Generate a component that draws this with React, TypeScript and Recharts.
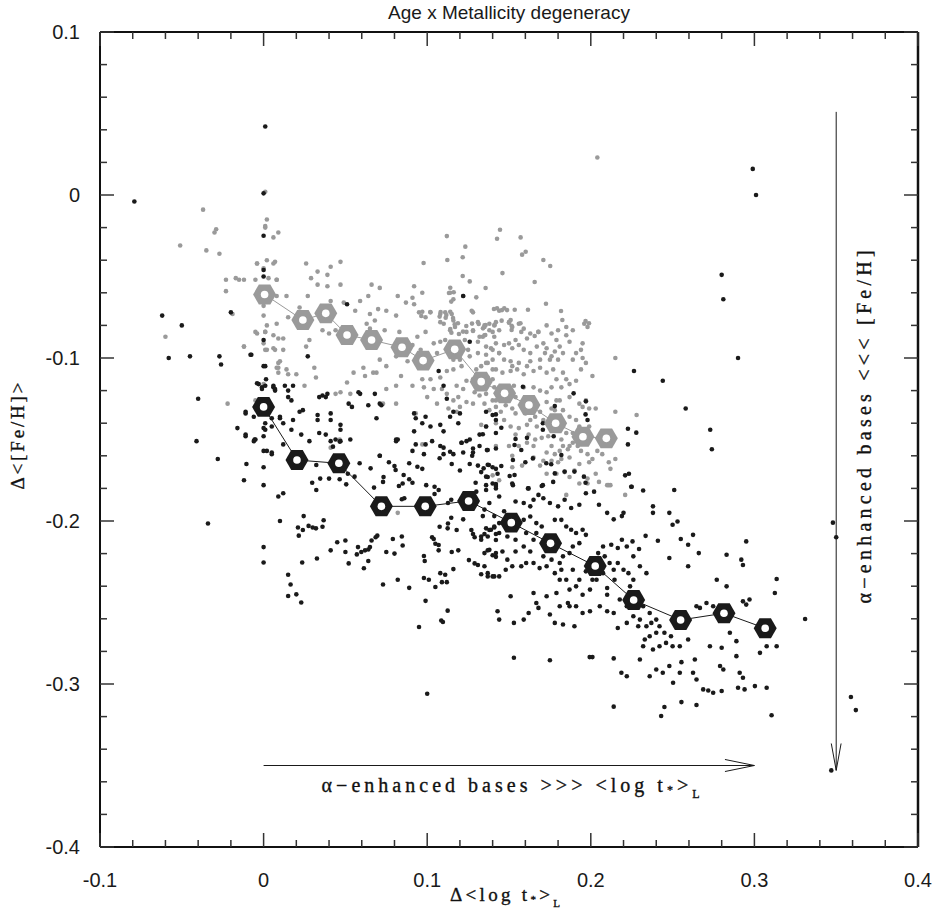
import React from "react";
import { ScatterChart, Scatter, XAxis, YAxis, ReferenceLine } from "recharts";

// axis ticks: majors every 0.1, minors every 0.02
const X_TICKS = [-0.1, -0.08, -0.06, -0.04, -0.02, 0, 0.02, 0.04, 0.06, 0.08, 0.1, 0.12, 0.14, 0.16, 0.18, 0.2, 0.22, 0.24, 0.26, 0.28, 0.3, 0.32, 0.34, 0.36, 0.38, 0.4];
const Y_TICKS = [-0.4, -0.38, -0.36, -0.34, -0.32, -0.3, -0.28, -0.26, -0.24, -0.22, -0.2, -0.18, -0.16, -0.14, -0.12, -0.1, -0.08, -0.06, -0.04, -0.02, 0, 0.02, 0.04, 0.06, 0.08, 0.1];

// binned means (hexagons)
const BLACK_MEAN: [number, number][] = [
  [0, -0.13], [0.0204, -0.1626], [0.046, -0.1646], [0.072, -0.191], [0.0988, -0.191], [0.1253, -0.1877],
  [0.1514, -0.201], [0.1754, -0.2137], [0.2027, -0.2276], [0.2262, -0.2485], [0.2549, -0.2607], [0.2814, -0.2566], [0.3066, -0.2658],
];
const GRAY_MEAN: [number, number][] = [
  [0.0006, -0.061], [0.024, -0.0767], [0.038, -0.0726], [0.051, -0.0859], [0.066, -0.089], [0.0846, -0.0934], [0.0975, -0.1016],
  [0.1168, -0.0947], [0.133, -0.1145], [0.1473, -0.1217], [0.1622, -0.1288], [0.1785, -0.14], [0.1952, -0.1483], [0.2095, -0.1493],
];

// individual galaxies, alpha-enhanced bases (black)
const BLACK_PTS: [number, number][] = [
  [-0.079, -0.004], [0.001, 0.042], [0.0, 0.001], [0.299, 0.016], [0.301, 0.0],
  [-0.062, -0.074], [-0.05, -0.08], [-0.058, -0.1], [-0.045, -0.099], [-0.027, -0.099], [-0.026, -0.104], [-0.02, -0.072], [-0.04, -0.125], [-0.041, -0.151], [-0.0075, -0.098],
  [0.0, -0.025], [0.0, -0.046], [0.0, -0.05], [0.0, -0.089], [0.0, -0.105], [-0.004, -0.1155], [-0.001, -0.118], [0.0015, -0.113], [0.006, -0.118], [0.007, -0.12],
  [-0.011, -0.133], [-0.006, -0.136], [0.0, -0.143], [0.0, -0.148], [0.005, -0.142], [-0.016, -0.143], [-0.011, -0.147], [-0.005, -0.15], [0.01, -0.136],
  [-0.0055, -0.15], [-0.028, -0.162], [-0.0105, -0.165], [-0.012, -0.175], [-0.034, -0.2015],
  [0.0, -0.157], [0.005, -0.158], [0.0, -0.167], [0.0, -0.178], [0.009, -0.185], [0.012, -0.183], [0.01, -0.2], [0.0, -0.216], [0.0, -0.2255],
  [0.015, -0.233], [0.0165, -0.239], [0.015, -0.246], [0.02, -0.245], [0.023, -0.25], [0.0245, -0.197], [0.021, -0.204], [0.0215, -0.209],
  [0.024, -0.2055], [0.0275, -0.203], [0.03, -0.204], [0.032, -0.2045], [0.036, -0.2035], [0.0367, -0.1995],
  [0.0236, -0.2255], [0.0326, -0.223], [0.041, -0.218], [0.045, -0.213], [0.05, -0.212], [0.052, -0.226], [0.05, -0.219], [0.0577, -0.216],
  [0.057, -0.2205], [0.0597, -0.219], [0.062, -0.218], [0.0613, -0.229], [0.064, -0.2245], [0.066, -0.212], [0.0685, -0.21], [0.0695, -0.209], [0.064, -0.2175], [0.065, -0.216],
  [0.073, -0.239], [0.075, -0.219], [0.08, -0.22], [0.079, -0.211], [0.0845, -0.2095], [0.085, -0.215], [0.082, -0.236], [0.089, -0.241], [0.095, -0.265],
  [0.099, -0.249], [0.098, -0.235], [0.101, -0.236], [0.0985, -0.2245], [0.098, -0.2215], [0.103, -0.21], [0.104, -0.211], [0.105, -0.214], [0.107, -0.2147],
  [0.107, -0.218], [0.1076, -0.2035], [0.1125, -0.2045], [0.108, -0.232], [0.111, -0.233], [0.112, -0.2375], [0.109, -0.2375], [0.105, -0.2405],
  [0.1086, -0.261], [0.1096, -0.262], [0.1125, -0.255], [0.115, -0.219], [0.119, -0.218], [0.116, -0.2295],
  [0.1127, -0.2015], [0.1147, -0.198], [0.118, -0.2055], [0.122, -0.199], [0.127, -0.2055], [0.128, -0.208], [0.129, -0.21], [0.133, -0.2095],
  [0.135, -0.208], [0.136, -0.2045], [0.138, -0.2055], [0.141, -0.204], [0.142, -0.208], [0.142, -0.2117],
  [0.1255, -0.224], [0.129, -0.226], [0.131, -0.227], [0.137, -0.218], [0.14, -0.221], [0.142, -0.222], [0.133, -0.2327], [0.137, -0.234], [0.141, -0.234],
  [0.081, -0.15], [0.093, -0.153], [0.11, -0.155], [0.114, -0.1575], [0.121, -0.152], [0.124, -0.151], [0.128, -0.1555], [0.1275, -0.16], [0.1365, -0.1565],
  [0.142, -0.1555], [0.1076, -0.1615], [0.115, -0.165], [0.12, -0.169], [0.126, -0.165], [0.131, -0.166], [0.133, -0.17], [0.137, -0.1655], [0.14, -0.167],
  [0.137, -0.173], [0.143, -0.171], [0.1296, -0.1765], [0.136, -0.181], [0.14, -0.177], [0.142, -0.18], [0.13, -0.182],
  [0.071, -0.16], [0.0766, -0.164], [0.08, -0.1663], [0.0807, -0.1687], [0.089, -0.1646], [0.094, -0.1667], [0.097, -0.168], [0.0856, -0.1718],
  [0.089, -0.1744], [0.091, -0.1765], [0.073, -0.176], [0.0733, -0.173], [0.0827, -0.1785], [0.085, -0.177], [0.086, -0.186], [0.0845, -0.1867],
  [0.0994, -0.178], [0.1045, -0.179], [0.107, -0.181], [0.1045, -0.1834], [0.1127, -0.189], [0.1147, -0.187],
  [0.0587, -0.1646], [0.0515, -0.171], [0.0556, -0.1728], [0.0322, -0.1656], [0.0297, -0.1765], [0.0346, -0.174], [0.04, -0.174], [0.0322, -0.181],
  [0.0505, -0.1775], [0.0675, -0.1795], [0.0654, -0.1677], [0.0424, -0.1544], [0.0465, -0.1513], [0.0465, -0.1744],
  [0.051, -0.067], [0.122, -0.062], [-0.008, -0.098], [0.027, -0.099], [0.001, -0.105], [-0.003, -0.116], [0.001, -0.117], [-0.001, -0.119],
  [0.006, -0.117], [0.007, -0.119], [0.013, -0.117], [0.015, -0.12], [0.018, -0.117], [0.015, -0.124], [0.017, -0.126], [0.034, -0.124],
  [0.036, -0.123], [0.039, -0.122], [0.038, -0.124], [0.024, -0.132], [0.022, -0.133], [0.033, -0.135], [0.041, -0.134], [0.052, -0.128],
  [0.054, -0.13], [0.058, -0.121], [0.059, -0.122], [0.064, -0.129], [0.068, -0.122], [0.072, -0.129], [0.071, -0.128], [0.069, -0.137],
  [0.033, -0.138], [0.041, -0.138], [0.047, -0.141], [-0.011, -0.134], [-0.006, -0.151], [-0.011, -0.148], [0.001, -0.14], [0.001, -0.144],
  [0.005, -0.137], [0.01, -0.137], [0.012, -0.14], [0.018, -0.138], [0.017, -0.144], [0.023, -0.147], [0.012, -0.153], [0.002, -0.157],
  [0.005, -0.159], [0.028, -0.151], [0.034, -0.146], [0.038, -0.147], [0.041, -0.151], [0.044, -0.15], [0.047, -0.151], [0.053, -0.15], [0.047, -0.144],
  [0.071, -0.16], [0.081, -0.151], [0.082, -0.15], [0.092, -0.145], [0.097, -0.14], [0.099, -0.136], [0.092, -0.134], [0.093, -0.137],
  [0.102, -0.142], [0.108, -0.141], [0.11, -0.145], [0.114, -0.136], [0.119, -0.14], [0.12, -0.134], [0.103, -0.151], [0.108, -0.154],
  [0.11, -0.159], [0.116, -0.159], [0.121, -0.152], [0.122, -0.158], [0.128, -0.158], [0.126, -0.15], [0.132, -0.154], [0.132, -0.147],
  [0.136, -0.142], [0.142, -0.146], [0.14, -0.135], [0.136, -0.133], [0.142, -0.138], [0.11, -0.117], [0.126, -0.09], [0.107, -0.108],
  [0.116, -0.133], [0.112, -0.125], [0.099, -0.153], [0.091, -0.157], [0.098, -0.159],
  [0.2264, -0.108], [0.244, -0.114], [0.2227, -0.1434], [0.2278, -0.1458], [0.2227, -0.153], [0.221, -0.172], [0.2233, -0.171], [0.2247, -0.179],
  [0.1585, -0.1176], [0.1895, -0.1217], [0.197, -0.1266], [0.1968, -0.1346], [0.198, -0.138], [0.178, -0.1295], [0.1707, -0.14], [0.1707, -0.144],
  [0.1773, -0.148], [0.1453, -0.1428], [0.142, -0.1346], [0.134, -0.1468], [0.154, -0.1497], [0.161, -0.149], [0.1534, -0.1534], [0.1575, -0.1564],
  [0.137, -0.1564], [0.182, -0.1595], [0.1728, -0.1646], [0.1758, -0.1652], [0.16, -0.164], [0.1524, -0.1626], [0.184, -0.1697], [0.19, -0.1697],
  [0.1958, -0.1728], [0.1968, -0.1765], [0.178, -0.1708], [0.1646, -0.1616], [0.1504, -0.1724], [0.1534, -0.1718], [0.142, -0.168], [0.1453, -0.1663],
  [0.1345, -0.1677], [0.1377, -0.1656], [0.136, -0.1728], [0.142, -0.1773], [0.1707, -0.178], [0.1616, -0.18], [0.1524, -0.178],
  [0.136, -0.178], [0.142, -0.1785], [0.152, -0.177], [0.162, -0.18], [0.17, -0.1785], [0.177, -0.176], [0.144, -0.185], [0.138, -0.189],
  [0.135, -0.193], [0.134, -0.197], [0.141, -0.197], [0.147, -0.194], [0.154, -0.188], [0.159, -0.189], [0.163, -0.191], [0.165, -0.187],
  [0.168, -0.184], [0.171, -0.186], [0.175, -0.189], [0.18, -0.191], [0.184, -0.187], [0.188, -0.192], [0.193, -0.19], [0.197, -0.183],
  [0.202, -0.182], [0.205, -0.19], [0.21, -0.195], [0.214, -0.199], [0.219, -0.197], [0.22, -0.195], [0.219, -0.2115], [0.2125, -0.2146],
  [0.2075, -0.2156], [0.2045, -0.2197], [0.2085, -0.2217], [0.2115, -0.2258], [0.214, -0.2299], [0.2165, -0.2258], [0.22, -0.2299], [0.223, -0.232],
  [0.226, -0.236], [0.2145, -0.236], [0.21, -0.2411], [0.2035, -0.236], [0.1995, -0.2421], [0.195, -0.2452], [0.193, -0.236], [0.191, -0.2401],
  [0.187, -0.2421], [0.185, -0.236], [0.181, -0.236], [0.178, -0.232], [0.173, -0.2278], [0.1687, -0.2289], [0.165, -0.2258], [0.1605, -0.2258],
  [0.1575, -0.2278], [0.152, -0.2278], [0.148, -0.2299], [0.144, -0.234], [0.14, -0.234], [0.137, -0.232], [0.135, -0.2278], [0.135, -0.2197],
  [0.138, -0.2177], [0.142, -0.2197], [0.146, -0.2187], [0.149, -0.2237], [0.154, -0.2187], [0.159, -0.2156], [0.163, -0.2187], [0.165, -0.2115],
  [0.1667, -0.2074], [0.1605, -0.2074], [0.154, -0.2115], [0.149, -0.2095], [0.144, -0.2074], [0.139, -0.2054], [0.137, -0.2095], [0.133, -0.2115],
  [0.148, -0.2013], [0.144, -0.2013], [0.141, -0.2034], [0.159, -0.1993], [0.163, -0.1972], [0.1667, -0.2013], [0.17, -0.2034], [0.178, -0.1993],
  [0.182, -0.1993], [0.185, -0.2034], [0.188, -0.2054], [0.191, -0.2074], [0.195, -0.2054], [0.197, -0.2085], [0.193, -0.2136], [0.189, -0.2156],
  [0.187, -0.2197], [0.183, -0.2217], [0.181, -0.2258], [0.176, -0.2237], [0.171, -0.2217], [0.182, -0.2299], [0.189, -0.2299], [0.197, -0.2309],
  [0.201, -0.236], [0.2075, -0.232], [0.2165, -0.2166], [0.222, -0.2156], [0.226, -0.2217], [0.23, -0.2278], [0.234, -0.232], [0.224, -0.2401],
  [0.228, -0.2462], [0.232, -0.2523], [0.236, -0.2564], [0.24, -0.2605], [0.234, -0.2646], [0.229, -0.2646], [0.222, -0.2625], [0.2165, -0.2656],
  [0.214, -0.2564], [0.21, -0.2554], [0.2055, -0.2523], [0.1995, -0.2554], [0.195, -0.2564], [0.191, -0.2523], [0.187, -0.2523], [0.181, -0.2523],
  [0.178, -0.2625], [0.183, -0.2635], [0.19, -0.2646], [0.175, -0.2574], [0.168, -0.2533], [0.162, -0.2564], [0.159, -0.2605], [0.153, -0.2625],
  [0.144, -0.2605], [0.143, -0.2554], [0.151, -0.2462], [0.165, -0.2442], [0.1667, -0.2503], [0.173, -0.2462], [0.179, -0.2442], [0.186, -0.2503],
  [0.21, -0.2452], [0.2177, -0.2482], [0.222, -0.2523], [0.226, -0.2584], [0.23, -0.2605], [0.237, -0.2625], [0.242, -0.2646], [0.245, -0.2686],
  [0.249, -0.2707], [0.24, -0.2686], [0.236, -0.2707], [0.233, -0.2727], [0.232, -0.2768], [0.238, -0.2788], [0.242, -0.2768], [0.246, -0.2748],
  [0.25, -0.2768], [0.2544, -0.2768], [0.2595, -0.2727], [0.2646, -0.2523], [0.2667, -0.2533], [0.2707, -0.2503], [0.2748, -0.2523], [0.283, -0.2401],
  [0.285, -0.2686], [0.289, -0.2737], [0.293, -0.2493], [0.295, -0.2513], [0.297, -0.2482], [0.3034, -0.2809], [0.3075, -0.2768], [0.3136, -0.2768],
  [0.331, -0.2601], [0.3075, -0.3023], [0.3003, -0.3013], [0.294, -0.3033], [0.29, -0.3023], [0.291, -0.2931], [0.293, -0.2962], [0.289, -0.2829],
  [0.281, -0.2911], [0.279, -0.289], [0.2728, -0.2768], [0.28, -0.2778], [0.28, -0.3043], [0.2748, -0.3054], [0.2718, -0.304], [0.2687, -0.3033],
  [0.2646, -0.2972], [0.2625, -0.2931], [0.2544, -0.2931], [0.2503, -0.2992], [0.2554, -0.3111], [0.245, -0.3141], [0.243, -0.3196], [0.2646, -0.3129],
  [0.2554, -0.2866], [0.2636, -0.285], [0.248, -0.289], [0.244, -0.2931], [0.24, -0.2911], [0.236, -0.2952], [0.23, -0.285], [0.222, -0.2952],
  [0.2187, -0.2931], [0.214, -0.2843], [0.214, -0.3139], [0.201, -0.2835], [0.1993, -0.2835], [0.175, -0.2854], [0.153, -0.2839], [0.3105, -0.3192],
  [0.238, -0.191], [0.238, -0.195], [0.248, -0.195], [0.25, -0.2023], [0.253, -0.2003], [0.251, -0.181], [0.255, -0.211], [0.2595, -0.2146],
  [0.2625, -0.2085], [0.266, -0.2197], [0.2595, -0.2278], [0.248, -0.2227], [0.241, -0.2121], [0.2335, -0.2091], [0.2295, -0.2172], [0.2255, -0.2125],
  [0.225, -0.179], [0.232, -0.1813], [0.295, -0.2125], [0.292, -0.2237], [0.293, -0.227], [0.283, -0.2207], [0.277, -0.236], [0.3136, -0.2356], [0.3125, -0.2442],
  [0.28, -0.049], [0.281, -0.064], [0.29, -0.1], [0.258, -0.131], [0.273, -0.144], [0.274, -0.156], [0.348, -0.201], [0.35, -0.21],
  [0.359, -0.308], [0.362, -0.316], [0.347, -0.353], [0.1, -0.306],
];

// individual galaxies, solar-scaled bases (gray)
const GRAY_PTS: [number, number][] = [
  [0.204, 0.023], [-0.037, -0.009], [-0.029, -0.021], [-0.03, -0.023], [-0.051, -0.031], [-0.035, -0.034], [-0.027, -0.036], [0.001, 0.002],
  [0.002, -0.015], [0.001, -0.019], [0.001, -0.02], [0.006, -0.026], [0.009, -0.023], [0.002, -0.04], [0.006, -0.042], [-0.004, -0.042],
  [0.0, -0.045], [-0.017, -0.051], [-0.015, -0.052], [-0.023, -0.052], [-0.023, -0.059], [-0.005, -0.052], [0.008, -0.052], [-0.019, -0.073],
  [0.0, -0.074], [0.0, -0.068], [-0.06, -0.087], [-0.004, -0.085], [0.001, -0.084], [0.0, -0.091], [0.001, -0.095], [0.006, -0.094],
  [0.009, -0.088], [-0.012, -0.093], [0.008, -0.106], [0.009, -0.103], [0.009, -0.109], [-0.022, -0.128], [-0.005, -0.126], [0.0, -0.116],
  [-0.004, -0.042], [0.007, -0.041], [0.026, -0.042], [0.047, -0.041], [0.041, -0.044], [0.039, -0.049], [0.029, -0.051], [0.033, -0.047],
  [0.008, -0.052], [0.003, -0.051], [-0.012, -0.052], [0.047, -0.055], [0.039, -0.056], [0.033, -0.055], [0.027, -0.062], [0.014, -0.062],
  [0.008, -0.062], [0.022, -0.069], [0.015, -0.075], [0.008, -0.079], [0.002, -0.08], [-0.005, -0.084], [0.001, -0.084], [0.006, -0.086],
  [0.012, -0.088], [-0.012, -0.093], [0.002, -0.095], [0.007, -0.095], [0.012, -0.095], [0.026, -0.093], [0.028, -0.089], [0.036, -0.083],
  [0.04, -0.085], [0.044, -0.083], [0.041, -0.065], [0.049, -0.066], [0.056, -0.071], [0.059, -0.065], [0.064, -0.062], [0.066, -0.055],
  [0.071, -0.057], [0.065, -0.073], [0.07, -0.07], [0.075, -0.071], [0.063, -0.079], [0.068, -0.077], [0.065, -0.082], [0.074, -0.083],
  [0.081, -0.074], [0.082, -0.062], [0.087, -0.066], [0.091, -0.063], [0.092, -0.056], [0.097, -0.06], [0.092, -0.067], [0.095, -0.072],
  [0.099, -0.075], [0.102, -0.072], [0.108, -0.073], [0.111, -0.072], [0.108, -0.078], [0.115, -0.073], [0.116, -0.077], [0.114, -0.06],
  [0.116, -0.064], [0.122, -0.062], [0.126, -0.053], [0.128, -0.072], [0.131, -0.078], [0.135, -0.081], [0.138, -0.079], [0.142, -0.078],
  [0.144, -0.071], [0.141, -0.087], [0.132, -0.087], [0.128, -0.083], [0.124, -0.084], [0.123, -0.089], [0.117, -0.081], [0.114, -0.083],
  [0.111, -0.089], [0.108, -0.09], [0.106, -0.097], [0.101, -0.1], [0.096, -0.095], [0.091, -0.092], [0.094, -0.087], [0.099, -0.084],
  [0.087, -0.089], [0.083, -0.084], [0.081, -0.099], [0.075, -0.105], [0.071, -0.101], [0.069, -0.109], [0.061, -0.106], [0.062, -0.111],
  [0.067, -0.109], [0.055, -0.109], [0.051, -0.115], [0.053, -0.122], [0.047, -0.121], [0.044, -0.122], [0.031, -0.106], [0.032, -0.112],
  [0.025, -0.117], [0.02, -0.11], [0.015, -0.11], [0.009, -0.106], [0.01, -0.102], [0.014, -0.107], [0.116, -0.101], [0.12, -0.101],
  [0.116, -0.107], [0.112, -0.108], [0.108, -0.112], [0.118, -0.117], [0.122, -0.119], [0.128, -0.113], [0.13, -0.107], [0.136, -0.093],
  [0.14, -0.095], [0.144, -0.097], [0.14, -0.107], [0.136, -0.103], [0.14, -0.113], [0.143, -0.119], [0.142, -0.126], [0.132, -0.123],
  [0.128, -0.128], [0.12, -0.13], [0.116, -0.126], [0.112, -0.122], [0.104, -0.119], [0.098, -0.118], [0.097, -0.113], [0.091, -0.117],
  [0.084, -0.111], [0.081, -0.117], [0.075, -0.119], [0.073, -0.128], [0.081, -0.128], [0.093, -0.134], [0.1, -0.124], [0.106, -0.128],
  [0.112, -0.0252], [0.1445, -0.0213], [0.1427, -0.0268], [0.1571, -0.026], [0.1233, -0.0317], [0.0978, -0.0417], [0.1123, -0.0399], [0.1217, -0.0382],
  [0.158, -0.0366], [0.1602, -0.0348], [0.171, -0.0399], [0.1752, -0.0436], [0.1217, -0.0497], [0.146, -0.0479], [0.1657, -0.0534], [0.1141, -0.0569],
  [0.1133, -0.0601], [0.1162, -0.0597], [0.1357, -0.0571], [0.13, -0.0628], [0.1147, -0.0654], [0.1726, -0.0667], [0.097, -0.0716], [0.1019, -0.0718],
  [0.1082, -0.0718], [0.1141, -0.0716], [0.0964, -0.0742], [0.1076, -0.0746], [0.1117, -0.0736], [0.1113, -0.0753], [0.1158, -0.0755], [0.1101, -0.079],
  [0.1168, -0.0794], [0.1188, -0.0787], [0.1141, -0.0822], [0.1239, -0.0804], [0.1274, -0.0789], [0.1315, -0.0791], [0.1357, -0.0798], [0.1412, -0.0798],
  [0.1272, -0.071], [0.1408, -0.0699], [0.1427, -0.0695], [0.1457, -0.0706], [0.1471, -0.0695], [0.1488, -0.0706], [0.1535, -0.0704], [0.1616, -0.0704],
  [0.1455, -0.0771], [0.151, -0.0767], [0.15, -0.0783], [0.1516, -0.0802], [0.157, -0.0787], [0.1516, -0.0828], [0.1575, -0.084], [0.1679, -0.084],
  [0.1657, -0.0865], [0.1818, -0.0712], [0.1826, -0.0767], [0.1968, -0.0773], [0.1989, -0.0787], [0.1219, -0.0838], [0.128, -0.0834], [0.1341, -0.0818],
  [0.1355, -0.0859], [0.1194, -0.0853], [0.1148, -0.0845],
  [0.141, -0.08], [0.15, -0.078], [0.156, -0.079], [0.152, -0.081], [0.163, -0.085], [0.168, -0.084], [0.135, -0.086], [0.142, -0.091],
  [0.147, -0.092], [0.15, -0.091], [0.154, -0.089], [0.156, -0.092], [0.152, -0.094], [0.159, -0.095], [0.163, -0.097], [0.167, -0.093],
  [0.171, -0.091], [0.173, -0.094], [0.178, -0.096], [0.181, -0.093], [0.187, -0.09], [0.183, -0.097], [0.18, -0.101], [0.175, -0.101],
  [0.169, -0.101], [0.163, -0.102], [0.156, -0.103], [0.151, -0.102], [0.147, -0.101], [0.14, -0.101], [0.136, -0.098], [0.137, -0.103],
  [0.133, -0.105], [0.142, -0.107], [0.146, -0.109], [0.151, -0.108], [0.155, -0.107], [0.159, -0.11], [0.165, -0.108], [0.169, -0.106],
  [0.173, -0.109], [0.177, -0.107], [0.183, -0.109], [0.185, -0.113], [0.182, -0.118], [0.187, -0.116], [0.191, -0.114], [0.194, -0.107],
  [0.197, -0.103], [0.195, -0.1], [0.201, -0.111], [0.215, -0.1], [0.141, -0.118], [0.136, -0.122], [0.14, -0.126], [0.135, -0.128],
  [0.142, -0.13], [0.138, -0.132], [0.145, -0.133], [0.148, -0.129], [0.152, -0.131], [0.154, -0.134], [0.16, -0.134], [0.163, -0.138],
  [0.166, -0.136], [0.169, -0.133], [0.171, -0.138], [0.167, -0.142], [0.161, -0.141], [0.156, -0.143], [0.151, -0.142], [0.147, -0.138],
  [0.142, -0.14], [0.136, -0.142], [0.133, -0.141], [0.154, -0.147], [0.162, -0.147], [0.166, -0.15], [0.17, -0.149], [0.174, -0.148],
  [0.176, -0.154], [0.173, -0.158], [0.178, -0.159], [0.181, -0.157], [0.183, -0.154], [0.187, -0.154], [0.189, -0.152], [0.192, -0.154],
  [0.195, -0.148], [0.199, -0.142], [0.203, -0.131], [0.199, -0.131], [0.195, -0.13], [0.191, -0.138], [0.187, -0.136], [0.183, -0.132],
  [0.181, -0.126], [0.179, -0.126], [0.187, -0.124], [0.193, -0.128], [0.197, -0.126], [0.187, -0.161], [0.182, -0.162], [0.18, -0.164],
  [0.176, -0.163], [0.171, -0.163], [0.165, -0.161], [0.184, -0.17], [0.19, -0.169], [0.193, -0.165], [0.198, -0.159], [0.201, -0.162],
  [0.203, -0.171], [0.198, -0.174], [0.205, -0.176], [0.211, -0.178], [0.212, -0.168], [0.215, -0.133], [0.228, -0.135], [0.158, -0.166],
  [0.152, -0.167], [0.144, -0.175], [0.14, -0.172],
  [0.185, -0.184], [0.198, -0.177], [0.21, -0.178], [0.212, -0.178], [0.221, -0.184], [0.097, -0.153], [0.082, -0.195], [0.041, -0.155],
  [0.0465, -0.15], [0.142, -0.154],
  [0.135, -0.08], [0.138, -0.083], [0.144, -0.083], [0.159, -0.082], [0.173, -0.08], [0.176, -0.085], [0.18, -0.083], [0.185, -0.081],
  [0.189, -0.083], [0.196, -0.079], [0.198, -0.081], [0.161, -0.088], [0.144, -0.097], [0.139, -0.094], [0.179, -0.089], [0.185, -0.086],
  [0.195, -0.091], [0.191, -0.097], [0.189, -0.101], [0.194, -0.095], [0.172, -0.097], [0.176, -0.099], [0.161, -0.105], [0.152, -0.105],
  [0.144, -0.118], [0.149, -0.119], [0.153, -0.117], [0.159, -0.118], [0.165, -0.118], [0.169, -0.12], [0.173, -0.121], [0.176, -0.118],
  [0.179, -0.113], [0.154, -0.124], [0.159, -0.126], [0.15, -0.124], [0.146, -0.126], [0.165, -0.126], [0.173, -0.127], [0.176, -0.131],
  [0.178, -0.132], [0.179, -0.138], [0.183, -0.142], [0.185, -0.146], [0.189, -0.146], [0.193, -0.142], [0.182, -0.15], [0.186, -0.156],
  [0.194, -0.157], [0.165, -0.154], [0.161, -0.152], [0.156, -0.154], [0.15, -0.154], [0.152, -0.16], [0.169, -0.166], [0.173, -0.171],
  [0.179, -0.171], [0.187, -0.173], [0.193, -0.177], [0.199, -0.164], [0.204, -0.157], [0.207, -0.159], [0.211, -0.164], [0.215, -0.162],
  [0.125, -0.095], [0.121, -0.105], [0.126, -0.099], [0.131, -0.09], [0.134, -0.11], [0.129, -0.121], [0.124, -0.114], [0.119, -0.124],
  [0.113, -0.131], [0.118, -0.133], [0.124, -0.127], [0.109, -0.119], [0.102, -0.113], [0.095, -0.106], [0.088, -0.102], [0.104, -0.091],
  [0.134, -0.087], [0.131, -0.097], [0.137, -0.112], [0.14, -0.084],
];

const toPts = (a: [number, number][]) => a.map(([x, y]) => ({ x, y }));

const SANS = "'Liberation Sans', Arial, Helvetica, sans-serif";
const SERIF = "'Liberation Serif', 'Times New Roman', serif";
const INK = "#1a1a1a";
const GRAY = "#9a9a9a";

const isMajor = (v: number) => Math.abs(v * 10 - Math.round(v * 10)) < 1e-6;
const fmt = (v: number) => (Math.abs(v) < 1e-9 ? "0" : v.toFixed(1));

function BottomTick({ x, y, payload }: any) {
  const major = isMajor(payload.value);
  return (
    <g>
      <line x1={x} x2={x} y1={y} y2={y - (major ? 14 : 7)} stroke="#333" strokeWidth={1.5} />
      {major && (
        <text x={x} y={y + 40} textAnchor="middle" fontSize={20} fontFamily={SANS} fill={INK}>
          {fmt(payload.value)}
        </text>
      )}
    </g>
  );
}

function TopTick({ x, y, payload }: any) {
  const major = isMajor(payload.value);
  return <line x1={x} x2={x} y1={y} y2={y + (major ? 14 : 7)} stroke="#333" strokeWidth={1.5} />;
}

function LeftTick({ x, y, payload }: any) {
  const major = isMajor(payload.value);
  return (
    <g>
      <line x1={x} x2={x + (major ? 14 : 7)} y1={y} y2={y} stroke="#333" strokeWidth={1.5} />
      {major && (
        <text x={x - 20} y={y + 7} textAnchor="end" fontSize={20} fontFamily={SANS} fill={INK}>
          {fmt(payload.value)}
        </text>
      )}
    </g>
  );
}

function RightTick({ x, y, payload }: any) {
  const major = isMajor(payload.value);
  return <line x1={x} x2={x - (major ? 14 : 7)} y1={y} y2={y} stroke="#333" strokeWidth={1.5} />;
}

const dot = (fill: string) => (p: any) => <circle cx={p.cx} cy={p.cy} r={2.3} fill={fill} />;

const hexagon = (fill: string) => (p: any) => {
  const r = 11.5;
  const pts = [0, 60, 120, 180, 240, 300]
    .map((a) => `${p.cx + r * Math.cos((a * Math.PI) / 180)},${p.cy + r * Math.sin((a * Math.PI) / 180)}`)
    .join(" ");
  return (
    <g>
      <polygon points={pts} fill={fill} />
      <circle cx={p.cx} cy={p.cy} r={3.8} fill="#fff" />
    </g>
  );
};

const serifStyle = { fontFamily: SERIF, fill: "#111", stroke: "#111", strokeWidth: 0.35 };

const titleLabel = (props: any) => {
  const vb = props.viewBox;
  return (
    <text x={vb.x + vb.width / 2} y={19} textAnchor="middle" fontSize={19} fontFamily={SANS} fill={INK}>
      Age x Metallicity degeneracy
    </text>
  );
};

const xTitle = (props: any) => {
  const vb = props.viewBox;
  return (
    <text x={vb.x + 405} y={vb.y + 54} textAnchor="middle" fontSize={19} {...serifStyle} textLength={110} lengthAdjust="spacing">
      {"Δ<log t"}
      <tspan fontSize={11} dy={2}>*</tspan>
      <tspan dy={-2}>{">"}</tspan>
      <tspan fontSize={11} dy={6}>L</tspan>
    </text>
  );
};

const yTitle = (props: any) => {
  const vb = props.viewBox;
  const cx = vb.x + 24;
  const cy = 436;
  return (
    <text x={cx} y={cy} transform={`rotate(-90 ${cx} ${cy})`} textAnchor="middle" fontSize={19} {...serifStyle} textLength={107} lengthAdjust="spacing">
      {"Δ<[Fe/H]>"}
    </text>
  );
};

const hArrowLabel = (props: any) => {
  const vb = props.viewBox;
  return (
    <text x={vb.x + 247} y={vb.y + 26} textAnchor="middle" fontSize={20} {...serifStyle} textLength={378} lengthAdjust="spacing">
      {"α−enhanced bases >>> <log t"}
      <tspan fontSize={12} dy={2}>*</tspan>
      <tspan dy={-2}>{">"}</tspan>
      <tspan fontSize={12} dy={6}>L</tspan>
    </text>
  );
};

const vArrowLabel = (props: any) => {
  const vb = props.viewBox;
  const cx = vb.x + 35;
  const cy = vb.y + 315;
  return (
    <text x={cx} y={cy} transform={`rotate(-90 ${cx} ${cy})`} textAnchor="middle" fontSize={20} {...serifStyle} textLength={353} lengthAdjust="spacing">
      {"α−enhanced bases <<< [Fe/H]"}
    </text>
  );
};

export default function App() {
  return (
    <div style={{ position: "absolute", left: 0, top: 0, width: 933, height: 916, background: "#fff" }}>
      <ScatterChart width={933} height={916} margin={{ top: 0, right: 0, bottom: 0, left: 0 }} style={{ overflow: "visible" }}>
        <XAxis
          xAxisId="b" type="number" dataKey="x" domain={[-0.1, 0.4]} ticks={X_TICKS} interval={0} allowDataOverflow
          height={69} tickSize={0} tickMargin={0} tickLine={false} tick={<BottomTick />}
          axisLine={{ stroke: "#111", strokeWidth: 2 }} label={xTitle}
        />
        <XAxis
          xAxisId="t" orientation="top" type="number" dataKey="x" domain={[-0.1, 0.4]} ticks={X_TICKS} interval={0} allowDataOverflow
          height={32} tickSize={0} tickMargin={0} tickLine={false} tick={<TopTick />}
          axisLine={{ stroke: "#111", strokeWidth: 2 }} label={titleLabel}
        />
        <YAxis
          yAxisId="l" type="number" dataKey="y" domain={[-0.4, 0.1]} ticks={Y_TICKS} interval={0} allowDataOverflow
          width={100} tickSize={0} tickMargin={0} tickLine={false} tick={<LeftTick />}
          axisLine={{ stroke: "#111", strokeWidth: 2 }} label={yTitle}
        />
        <YAxis
          yAxisId="r" orientation="right" type="number" dataKey="y" domain={[-0.4, 0.1]} ticks={Y_TICKS} interval={0} allowDataOverflow
          width={15} tickSize={0} tickMargin={0} tickLine={false} tick={<RightTick />}
          axisLine={{ stroke: "#111", strokeWidth: 2.5 }}
        />

        <Scatter xAxisId="b" yAxisId="l" data={toPts(GRAY_PTS)} shape={dot(GRAY)} isAnimationActive={false} />
        <Scatter xAxisId="b" yAxisId="l" data={toPts(BLACK_PTS)} shape={dot(INK)} isAnimationActive={false} />
        <Scatter xAxisId="b" yAxisId="l" data={toPts(GRAY_MEAN)} shape={hexagon(GRAY)} line={{ stroke: GRAY, strokeWidth: 1 }} isAnimationActive={false} />
        <Scatter xAxisId="b" yAxisId="l" data={toPts(BLACK_MEAN)} shape={hexagon(INK)} line={{ stroke: INK, strokeWidth: 1 }} isAnimationActive={false} />

        {/* horizontal arrow: alpha-enhanced bases shift ages */}
        <ReferenceLine xAxisId="b" yAxisId="l" segment={[{ x: 0, y: -0.35 }, { x: 0.3, y: -0.35 }]} stroke={INK} strokeWidth={1} label={hArrowLabel} />
        <ReferenceLine xAxisId="b" yAxisId="l" segment={[{ x: 0.3, y: -0.35 }, { x: 0.282, y: -0.3463 }]} stroke={INK} strokeWidth={1} />
        <ReferenceLine xAxisId="b" yAxisId="l" segment={[{ x: 0.3, y: -0.35 }, { x: 0.282, y: -0.3537 }]} stroke={INK} strokeWidth={1} />

        {/* vertical arrow: alpha-enhanced bases shift metallicity */}
        <ReferenceLine xAxisId="b" yAxisId="l" segment={[{ x: 0.35, y: 0.051 }, { x: 0.35, y: -0.353 }]} stroke={INK} strokeWidth={1} label={vArrowLabel} />
        <ReferenceLine xAxisId="b" yAxisId="l" segment={[{ x: 0.35, y: -0.353 }, { x: 0.347, y: -0.3365 }]} stroke={INK} strokeWidth={1} />
        <ReferenceLine xAxisId="b" yAxisId="l" segment={[{ x: 0.35, y: -0.353 }, { x: 0.353, y: -0.3365 }]} stroke={INK} strokeWidth={1} />
      </ScatterChart>
    </div>
  );
}
